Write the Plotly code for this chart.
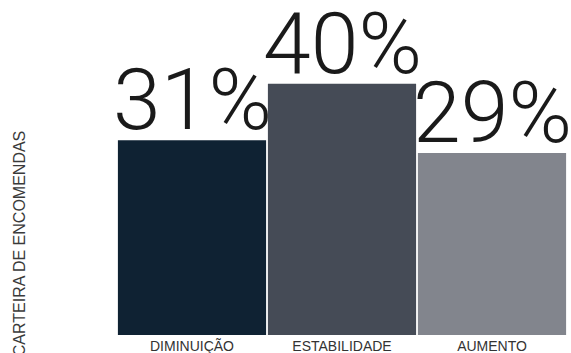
import plotly.graph_objects as go

# Order book outlook: share of answers per category
categories = ["DIMINUIÇÃO", "ESTABILIDADE", "AUMENTO"]
shares = [31, 40, 29]
labels = ["31%", "40%", "29%"]
colors = ["#0f2233", "#454b56", "#82858d"]
axis_title = "CARTEIRA DE ENCOMENDAS"

fig = go.Figure(
    go.Bar(
        x=categories,
        y=shares,
        marker=dict(color=colors, line=dict(width=0)),
        hoverinfo="skip",
    )
)

# Large percentage labels sitting just above each bar
for cat, val, lab in zip(categories, shares, labels):
    fig.add_annotation(
        x=cat, y=val, xref="x", yref="y",
        text=lab,
        showarrow=False,
        xanchor="center", yanchor="bottom",
        yshift=-12,
        font=dict(family="Roboto", size=86, color="#1a1a1a", weight=300),
    )

fig.add_annotation(
    text=axis_title,
    xref="paper", yref="paper",
    x=-0.215, y=0.293,
    xanchor="center", yanchor="middle",
    textangle=-90,
    showarrow=False,
    font=dict(family="Liberation Sans", size=16, color="#3a3a3a"),
)

fig.update_layout(
    width=571,
    height=353,
    margin=dict(l=117, r=4, t=21, b=18),
    paper_bgcolor="white",
    plot_bgcolor="white",
    bargap=0.012,
    showlegend=False,
    xaxis=dict(
        range=[-0.5, 2.5],
        automargin=False,
        showgrid=False,
        zeroline=False,
        showline=False,
        ticks="",
        ticklabelstandoff=1,
        tickfont=dict(family="Liberation Sans", size=14, color="#333333"),
        fixedrange=True,
    ),
    yaxis=dict(
        range=[0, 50],
        automargin=False,
        showgrid=False,
        zeroline=False,
        showline=False,
        showticklabels=False,
        ticks="",
        fixedrange=True,
    ),
)

fig.write_html("out.html")
